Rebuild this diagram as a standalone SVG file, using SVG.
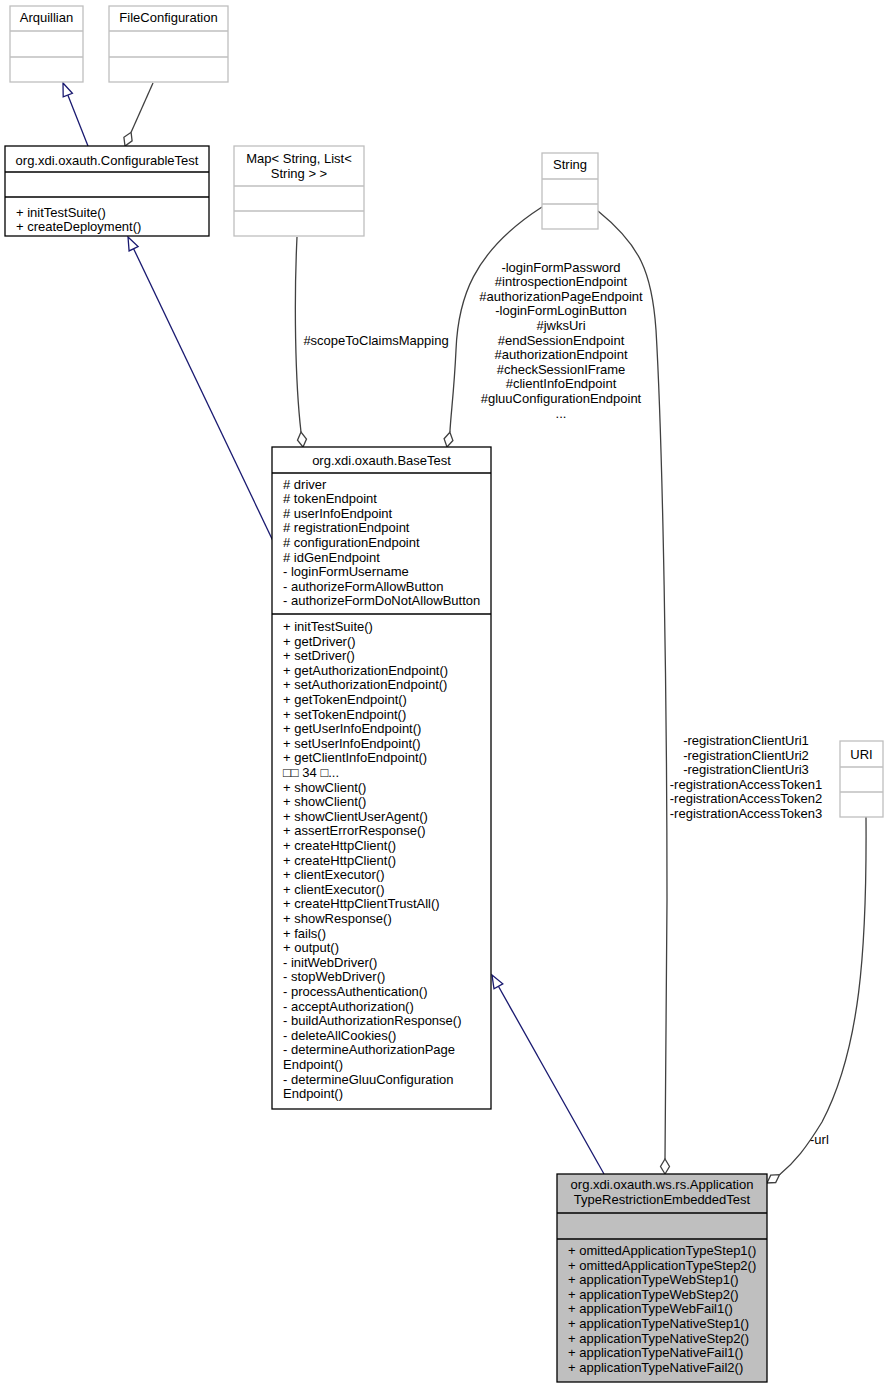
<svg xmlns="http://www.w3.org/2000/svg" width="889" height="1388" viewBox="0 0 889 1388">
<style>
text{font-family:"Liberation Sans",Arial,sans-serif;font-size:13px;fill:#000}
.c{text-anchor:middle}
.ext{fill:#fff;stroke:#bfbfbf;stroke-width:1.3}
.cls{fill:#fff;stroke:#000;stroke-width:1.3}
.cur{fill:#bfbfbf;stroke:#000;stroke-width:1.3}
.sepx{stroke:#bfbfbf;stroke-width:1.3}
.sep{stroke:#000;stroke-width:1.3}
.gen{fill:none;stroke:#191970;stroke-width:1.3}
.genh{fill:#fff;stroke:#191970;stroke-width:1.3}
.agg{fill:none;stroke:#404040;stroke-width:1.3}
.aggh{fill:#fff;stroke:#404040;stroke-width:1.3}
</style>
<rect width="889" height="1388" fill="#fff"/>

<g id="connectors">
  <!-- ConfigurableTest -> Arquillian -->
  <line class="gen" x1="88" y1="146" x2="67.8" y2="95.1"/>
  <polygon class="genh" points="63,83 72.4,93.3 63.2,96.9"/>
  <!-- FileConfiguration -> ConfigurableTest -->
  <line class="agg" x1="153" y1="83" x2="131.1" y2="132.3"/>
  <polygon class="aggh" points="125,146 123.9,137.3 131.1,132.3 132.1,140.9"/>
  <!-- BaseTest -> ConfigurableTest -->
  <line class="gen" x1="273" y1="541" x2="133.6" y2="248.7"/>
  <polygon class="genh" points="128,237 138.1,246.5 129.1,250.9"/>
  <!-- Map -> BaseTest -->
  <path class="agg" d="M297,237 C294,300 295,380 301,432"/>
  <polygon class="aggh" points="303,447 297.5,440.2 301,432.1 306.5,439"/>
  <text class="c" x="376" y="345">#scopeToClaimsMapping</text>
  <!-- String -> BaseTest -->
  <path class="agg" d="M542,207 C472,252 458,300 456,350 C454,392 451,412 449.9,432.3"/>
  <polygon class="aggh" points="447,447 444.1,438.7 449.9,432.3 452.9,440.5"/>
  <text class="c" x="561" y="271.5">-loginFormPassword<tspan x="561" dy="14.6">#introspectionEndpoint</tspan><tspan x="561" dy="14.6">#authorizationPageEndpoint</tspan><tspan x="561" dy="14.6">-loginFormLoginButton</tspan><tspan x="561" dy="14.6">#jwksUri</tspan><tspan x="561" dy="14.6">#endSessionEndpoint</tspan><tspan x="561" dy="14.6">#authorizationEndpoint</tspan><tspan x="561" dy="14.6">#checkSessionIFrame</tspan><tspan x="561" dy="14.6">#clientInfoEndpoint</tspan><tspan x="561" dy="14.6">#gluuConfigurationEndpoint</tspan><tspan x="561" dy="14.6">...</tspan></text>
  <!-- String -> ApplicationTypeRestrictionEmbeddedTest -->
  <path class="agg" d="M598,211 C640,245 652,272 656,330 C663,450 667,700 667,900 L665,1159"/>
  <polygon class="aggh" points="665,1174 660.5,1166.5 665,1159 669.5,1166.5"/>
  <text class="c" x="746" y="745">-registrationClientUri1<tspan x="746" dy="14.6">-registrationClientUri2</tspan><tspan x="746" dy="14.6">-registrationClientUri3</tspan><tspan x="746" dy="14.6">-registrationAccessToken1</tspan><tspan x="746" dy="14.6">-registrationAccessToken2</tspan><tspan x="746" dy="14.6">-registrationAccessToken3</tspan></text>
  <!-- URI -> ApplicationTypeRestrictionEmbeddedTest -->
  <path class="agg" d="M866,817 C867,950 860,1050 822,1122 C806,1148 795,1162 779.5,1174.7"/>
  <polygon class="aggh" points="767,1183 770.7,1175.1 779.5,1174.7 775.7,1182.5"/>
  <text x="810" y="1144">-url</text>
  <!-- ApplicationTypeRestrictionEmbeddedTest -> BaseTest -->
  <line class="gen" x1="604" y1="1174" x2="498.4" y2="986.3"/>
  <polygon class="genh" points="492,975 502.8,983.8 494,988.8"/>
</g>

<g id="Arquillian">
  <rect class="ext" x="10" y="6" width="73" height="76"/>
  <line class="sepx" x1="10" y1="31" x2="83" y2="31"/>
  <line class="sepx" x1="10" y1="57" x2="83" y2="57"/>
  <text class="c" x="46.5" y="22">Arquillian</text>
</g>

<g id="FileConfiguration">
  <rect class="ext" x="109" y="6" width="119" height="76"/>
  <line class="sepx" x1="109" y1="31" x2="228" y2="31"/>
  <line class="sepx" x1="109" y1="57" x2="228" y2="57"/>
  <text class="c" x="168.5" y="22">FileConfiguration</text>
</g>

<g id="ConfigurableTest">
  <rect class="cls" x="5" y="146" width="204" height="90"/>
  <line class="sep" x1="5" y1="172" x2="209" y2="172"/>
  <line class="sep" x1="5" y1="197" x2="209" y2="197"/>
  <text class="c" x="107" y="165">org.xdi.oxauth.ConfigurableTest</text>
  <text x="16" y="216.5">+ initTestSuite()<tspan x="16" dy="14.6">+ createDeployment()</tspan></text>
</g>

<g id="MapStringListString">
  <rect class="ext" x="234" y="146" width="130" height="90"/>
  <line class="sepx" x1="234" y1="186" x2="364" y2="186"/>
  <line class="sepx" x1="234" y1="211" x2="364" y2="211"/>
  <text class="c" x="299" y="163">Map&lt; String, List&lt;<tspan x="299" dy="14.6">String &gt; &gt;</tspan></text>
</g>

<g id="String">
  <rect class="ext" x="542" y="153" width="56" height="76"/>
  <line class="sepx" x1="542" y1="179" x2="598" y2="179"/>
  <line class="sepx" x1="542" y1="204" x2="598" y2="204"/>
  <text class="c" x="570" y="169">String</text>
</g>

<g id="URI">
  <rect class="ext" x="840" y="741" width="43" height="76"/>
  <line class="sepx" x1="840" y1="767" x2="883" y2="767"/>
  <line class="sepx" x1="840" y1="792" x2="883" y2="792"/>
  <text class="c" x="861.5" y="758.5">URI</text>
</g>

<g id="BaseTest">
  <rect class="cls" x="272" y="447" width="219" height="662"/>
  <line class="sep" x1="272" y1="473" x2="491" y2="473"/>
  <line class="sep" x1="272" y1="614" x2="491" y2="614"/>
  <text class="c" x="381.5" y="465">org.xdi.oxauth.BaseTest</text>
  <text x="283" y="488.5"># driver<tspan x="283" dy="14.6"># tokenEndpoint</tspan><tspan x="283" dy="14.6"># userInfoEndpoint</tspan><tspan x="283" dy="14.6"># registrationEndpoint</tspan><tspan x="283" dy="14.6"># configurationEndpoint</tspan><tspan x="283" dy="14.6"># idGenEndpoint</tspan><tspan x="283" dy="14.6">- loginFormUsername</tspan><tspan x="283" dy="14.6">- authorizeFormAllowButton</tspan><tspan x="283" dy="14.6">- authorizeFormDoNotAllowButton</tspan></text>
  <text x="283" y="631">+ initTestSuite()<tspan x="283" dy="14.6">+ getDriver()</tspan><tspan x="283" dy="14.6">+ setDriver()</tspan><tspan x="283" dy="14.6">+ getAuthorizationEndpoint()</tspan><tspan x="283" dy="14.6">+ setAuthorizationEndpoint()</tspan><tspan x="283" dy="14.6">+ getTokenEndpoint()</tspan><tspan x="283" dy="14.6">+ setTokenEndpoint()</tspan><tspan x="283" dy="14.6">+ getUserInfoEndpoint()</tspan><tspan x="283" dy="14.6">+ setUserInfoEndpoint()</tspan><tspan x="283" dy="14.6">+ getClientInfoEndpoint()</tspan><tspan x="283" dy="14.6">□□ 34 □...</tspan><tspan x="283" dy="14.6">+ showClient()</tspan><tspan x="283" dy="14.6">+ showClient()</tspan><tspan x="283" dy="14.6">+ showClientUserAgent()</tspan><tspan x="283" dy="14.6">+ assertErrorResponse()</tspan><tspan x="283" dy="14.6">+ createHttpClient()</tspan><tspan x="283" dy="14.6">+ createHttpClient()</tspan><tspan x="283" dy="14.6">+ clientExecutor()</tspan><tspan x="283" dy="14.6">+ clientExecutor()</tspan><tspan x="283" dy="14.6">+ createHttpClientTrustAll()</tspan><tspan x="283" dy="14.6">+ showResponse()</tspan><tspan x="283" dy="14.6">+ fails()</tspan><tspan x="283" dy="14.6">+ output()</tspan><tspan x="283" dy="14.6">- initWebDriver()</tspan><tspan x="283" dy="14.6">- stopWebDriver()</tspan><tspan x="283" dy="14.6">- processAuthentication()</tspan><tspan x="283" dy="14.6">- acceptAuthorization()</tspan><tspan x="283" dy="14.6">- buildAuthorizationResponse()</tspan><tspan x="283" dy="14.6">- deleteAllCookies()</tspan><tspan x="283" dy="14.6">- determineAuthorizationPage</tspan><tspan x="283" dy="14.6">Endpoint()</tspan><tspan x="283" dy="14.6">- determineGluuConfiguration</tspan><tspan x="283" dy="14.6">Endpoint()</tspan></text>
</g>

<g id="ApplicationTypeRestrictionEmbeddedTest">
  <rect class="cur" x="557" y="1174" width="210" height="208"/>
  <line class="sep" x1="557" y1="1213" x2="767" y2="1213"/>
  <line class="sep" x1="557" y1="1239" x2="767" y2="1239"/>
  <text class="c" x="662" y="1189">org.xdi.oxauth.ws.rs.Application<tspan x="662" dy="14.6">TypeRestrictionEmbeddedTest</tspan></text>
  <text x="568" y="1255">+ omittedApplicationTypeStep1()<tspan x="568" dy="14.6">+ omittedApplicationTypeStep2()</tspan><tspan x="568" dy="14.6">+ applicationTypeWebStep1()</tspan><tspan x="568" dy="14.6">+ applicationTypeWebStep2()</tspan><tspan x="568" dy="14.6">+ applicationTypeWebFail1()</tspan><tspan x="568" dy="14.6">+ applicationTypeNativeStep1()</tspan><tspan x="568" dy="14.6">+ applicationTypeNativeStep2()</tspan><tspan x="568" dy="14.6">+ applicationTypeNativeFail1()</tspan><tspan x="568" dy="14.6">+ applicationTypeNativeFail2()</tspan></text>
</g>
</svg>
